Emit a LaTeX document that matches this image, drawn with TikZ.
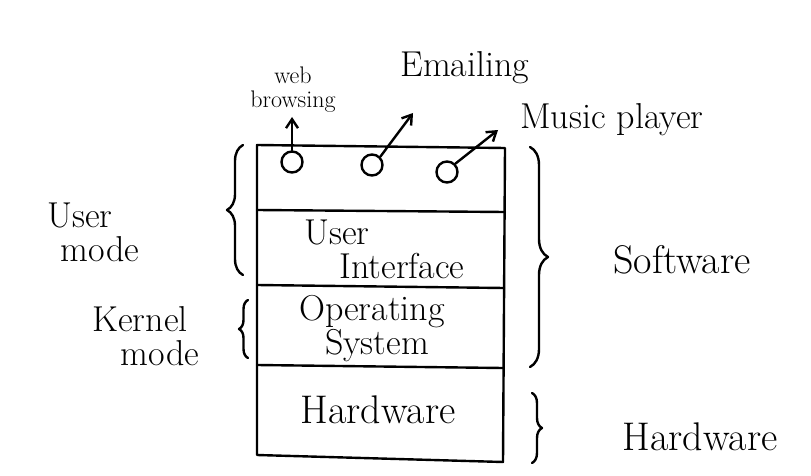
\documentclass[tikz,border=0pt]{standalone}
\usepackage{fontspec}
\usetikzlibrary{decorations.pathreplacing,arrows.meta}
\begin{document}
\begin{tikzpicture}[x=1pt,y=-1pt,
  ink/.style={line width=2.4pt,line cap=round,line join=round},
  lbl/.style={font=\fontsize{40}{34}\selectfont,align=center,inner sep=0pt},
  mid/.style={font=\fontsize{36}{34}\selectfont,align=center,inner sep=0pt},
  small/.style={font=\fontsize{24}{24}\selectfont,align=center,inner sep=0pt},
  app/.style={circle,draw,line width=2.4pt,minimum size=21pt,inner sep=0pt},
  hbrace/.style={ink,decorate,decoration={brace,amplitude=12pt}},
  arr/.style={ink,-{Straight Barb[length=9pt,width=12pt]}}]
\useasboundingbox (0,0) rectangle (811,476);

% layered stack
\coordinate (tl) at (257,145);
\coordinate (tr) at (505,148);
\coordinate (bl) at (257,455);
\coordinate (br) at (503,462);
\draw[ink] (tl) -- (tr) -- (br) -- (bl) -- cycle;
\draw[ink] (257,210) -- (505,212);
\draw[ink] (257,285) -- (504,288);
\draw[ink] (257,365) -- (503,368);

% layer texts
\node[mid] (ui) at (382,249) {User\hspace*{90pt}\\\hspace*{40pt}Interface};
\node[mid] (os) at (372,329) {Operating\\\hspace*{10pt}System};
\node[lbl] (hw) at (378,410) {Hardware};

% applications
\node[app] (a1) at (292,162) {};
\node[app] (a2) at (372,165) {};
\node[app] (a3) at (447,172) {};
\coordinate (e1) at (292,117);
\coordinate (e2) at (413,113);
\coordinate (e3) at (498,130);
\draw[arr] (a1.north) -- (e1);
\draw[arr] (a2.north east) -- (e2);
\draw[arr] (a3.north east) -- (e3);
\node[small] (web) at (293,90) {web\\browsing};
\node[mid] (mail) at (465,68) {Emailing};
\node[mid] (music) at (612,120) {Music player};

% left braces
\coordinate (ub1) at (243,275);
\coordinate (ub2) at (243,145);
\draw[hbrace,decoration={amplitude=16pt}] (ub1) -- (ub2);
\node[mid] (umode) at (80,232) {User\\\hspace*{40pt}mode};
\coordinate (kb1) at (248,358);
\coordinate (kb2) at (248,300);
\draw[hbrace,decoration={amplitude=9pt}] (kb1) -- (kb2);
\node[mid] (kmode) at (140,336) {Kernel\\\hspace*{40pt}mode};

% right braces
\coordinate (sb1) at (530,147);
\coordinate (sb2) at (530,367);
\draw[hbrace,decoration={amplitude=18pt}] (sb1) -- (sb2);
\node[lbl] (sw) at (682,260) {Software};
\coordinate (hb1) at (532,393);
\coordinate (hb2) at (532,463);
\draw[hbrace,decoration={amplitude=10pt}] (hb1) -- (hb2);
\node[lbl] (hwl) at (700,437) {Hardware};
\end{tikzpicture}
\end{document}
